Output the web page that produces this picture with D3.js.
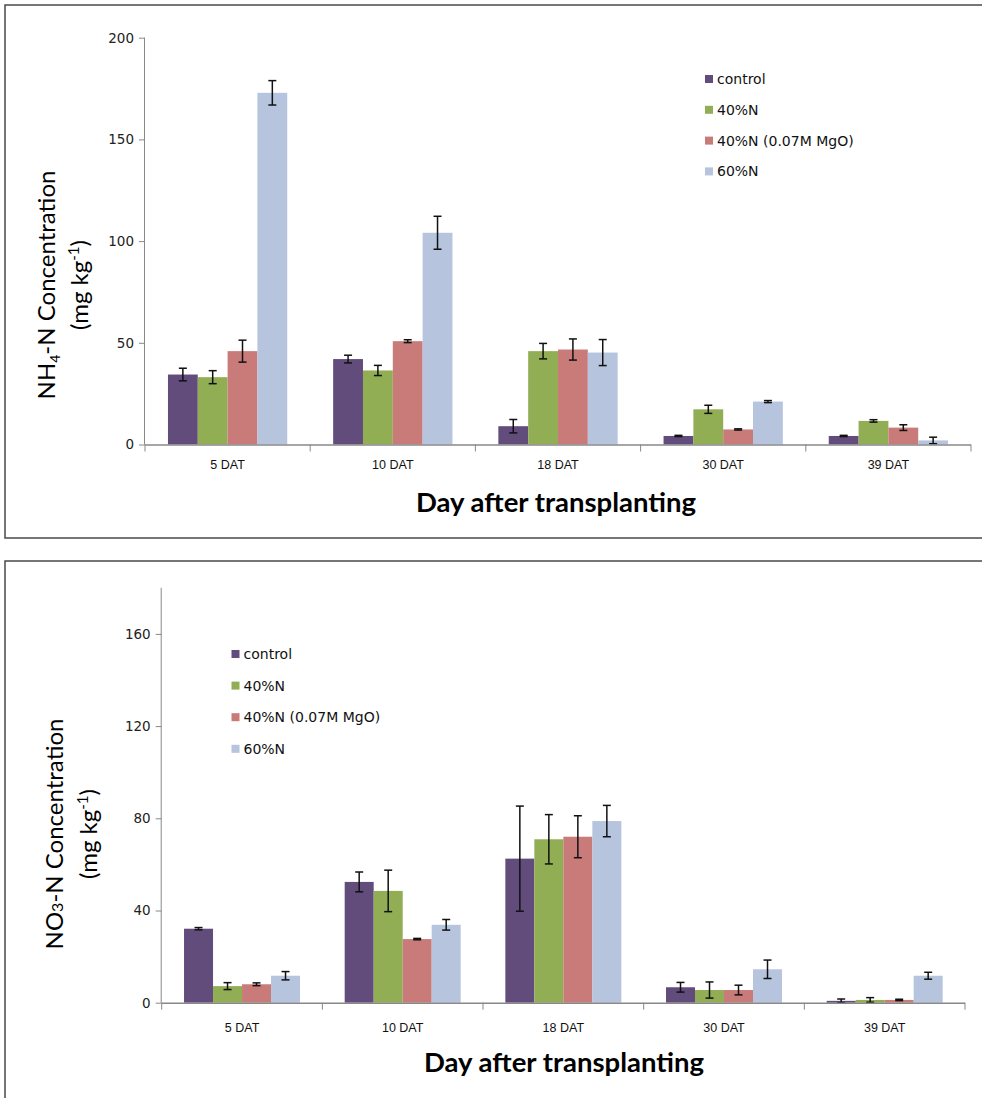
<!DOCTYPE html>
<html><head><meta charset="utf-8">
<script src="https://cdn.jsdelivr.net/npm/d3@7"></script>
<style>body{margin:0;background:#fff}svg{display:block}</style>
</head><body>
<svg id="c" width="982" height="1098"></svg>
<script>
const categories = ["5 DAT","10 DAT","18 DAT","30 DAT","39 DAT"];
const seriesNames = ["control","40%N","40%N (0.07M MgO)","60%N"];
const colors = ["#624C7C","#91AE54","#C97B7A","#B6C4DE"];

// NH4-N (top)
const nh4_control = [34.4, 42.0, 9.0, 4.2, 4.2];
const nh4_40N     = [33.1, 36.4, 45.9, 17.3, 11.6];
const nh4_40NMgO  = [45.9, 50.8, 46.7, 7.4, 8.3];
const nh4_60N     = [172.9, 104.1, 45.2, 21.1, 2.0];
const nh4_err_control = [3.1, 1.9, 3.3, 0.3, 0.3];
const nh4_err_40N     = [3.2, 2.5, 3.8, 2.0, 0.6];
const nh4_err_40NMgO  = [5.4, 0.7, 5.2, 0.3, 1.4];
const nh4_err_60N     = [6.0, 8.1, 6.4, 0.5, 1.6];
const nh4_ticks = [0, 50, 100, 150, 200];

// NO3-N (bottom)
const no3_control = [32.1, 52.4, 62.5, 6.7, 0.8];
const no3_40N     = [7.2, 48.5, 70.9, 5.5, 1.2];
const no3_40NMgO  = [8.0, 27.6, 72.0, 5.5, 1.2];
const no3_60N     = [11.7, 33.8, 78.8, 14.5, 11.7];
const no3_err_control = [0.5, 4.3, 22.8, 2.1, 0.8];
const no3_err_40N     = [1.5, 9.0, 10.7, 3.5, 1.0];
const no3_err_40NMgO  = [0.6, 0.3, 9.1, 2.1, 0.3];
const no3_err_60N     = [1.8, 2.3, 6.8, 4.0, 1.5];
const no3_ticks = [0, 40, 80, 120, 160];

const svg = d3.select("#c");
const tickFont = "DejaVu Sans, Verdana, sans-serif";
const catFont = "Liberation Sans, Arial, sans-serif";
const titleFont = "Lato, Open Sans, sans-serif";

function drawChart(o) {
  const g = svg.append("g");
  g.append("rect").attr("x", o.frame[0]).attr("y", o.frame[1]).attr("width", o.frame[2]).attr("height", o.frame[3])
    .attr("fill", "none").attr("stroke", "#4a4a4a").attr("stroke-width", 1.5);

  const x0 = d3.scaleBand().domain(categories).range([o.x0, o.x1]).paddingInner(0).paddingOuter(0);
  const x1 = d3.scaleBand().domain(seriesNames).range([0, x0.bandwidth()]).paddingOuter(0.77).paddingInner(0);
  const y = d3.scaleLinear().domain([0, o.ymax]).range([o.yb, o.yt]);

  seriesNames.forEach((s, si) => {
    const vals = o.values[si];
    g.append("g").selectAll("rect").data(categories).join("rect")
      .attr("x", c => x0(c) + x1(s))
      .attr("width", x1.bandwidth())
      .attr("y", (c, i) => y(vals[i]))
      .attr("height", (c, i) => y(0) - y(vals[i]))
      .attr("fill", colors[si]);
  });
  seriesNames.forEach((s, si) => {
    const vals = o.values[si], errs = o.errs[si];
    const eg = g.append("g").attr("stroke", "#111").attr("stroke-width", 1.5);
    categories.forEach((c, i) => {
      const cx = x0(c) + x1(s) + x1.bandwidth() / 2;
      const hi = y(vals[i] + errs[i]), lo = y(Math.max(0, vals[i] - errs[i]));
      eg.append("line").attr("x1", cx).attr("x2", cx).attr("y1", hi).attr("y2", lo);
      eg.append("line").attr("x1", cx - 4).attr("x2", cx + 4).attr("y1", hi).attr("y2", hi);
      eg.append("line").attr("x1", cx - 4).attr("x2", cx + 4).attr("y1", lo).attr("y2", lo);
    });
  });

  const ya = g.append("g").attr("transform", `translate(${o.x0},0)`)
    .call(d3.axisLeft(y).tickValues(o.ticks).tickSize(6).tickPadding(5));
  ya.select(".domain").attr("stroke", "#888").attr("d", `M-0.5,${o.yt}V${o.yb}`);
  ya.selectAll(".tick line").attr("stroke", "#888");
  ya.selectAll("text").attr("font-family", tickFont).attr("font-size", 13.5).attr("fill", "#222");

  const xa = g.append("g").attr("transform", `translate(0,${o.yb})`);
  xa.append("line").attr("x1", o.x0).attr("x2", o.x1).attr("y1", 0.5).attr("y2", 0.5).attr("stroke", "#888").attr("stroke-width", 1.5);
  const bounds = categories.map(c => x0(c)).concat([o.x1]);
  xa.selectAll("line.t").data(bounds).join("line").attr("class", "t")
    .attr("x1", d => d).attr("x2", d => d).attr("y1", 0).attr("y2", 7).attr("stroke", "#888");
  xa.selectAll("text").data(categories).join("text")
    .attr("x", c => x0(c) + x0.bandwidth() / 2).attr("y", o.catY - o.yb)
    .attr("text-anchor", "middle").attr("font-family", catFont).attr("font-size", 12.5).attr("fill", "#111")
    .text(c => c);

  g.append("text").attr("x", o.xtX).attr("y", o.xtY).attr("text-anchor", "middle")
    .attr("font-family", titleFont).attr("font-weight", "bold").attr("font-size", 27.5).attr("fill", "#000")
    .text("Day after transplanting");

  const t1 = g.append("text").attr("transform", `translate(${o.yt1X},${o.ytY}) rotate(-90)`)
    .attr("text-anchor", "middle").attr("font-family", titleFont).attr("font-size", 24).attr("fill", "#000");
  o.ylab(t1);
  const t2 = g.append("text").attr("transform", `translate(${o.yt2X},${o.ytY}) rotate(-90)`)
    .attr("text-anchor", "middle").attr("font-family", titleFont).attr("font-size", 24).attr("fill", "#000");
  t2.append("tspan").text("(mg kg");
  t2.append("tspan").attr("dy", -9).attr("font-size", 15).text("-1");
  t2.append("tspan").attr("dy", 9).text(")");

  const lg = g.append("g").attr("transform", `translate(${o.leg[0]},${o.leg[1]})`);
  seriesNames.forEach((s, si) => {
    const row = lg.append("g").attr("transform", `translate(0,${si * o.leg[2]})`);
    row.append("rect").attr("x", 0).attr("y", -4).attr("width", 8).attr("height", 8).attr("fill", colors[si]);
    row.append("text").attr("x", 12).attr("y", 5).attr("font-family", tickFont).attr("font-size", 14).attr("fill", "#111").text(s);
  });
}

drawChart({
  frame: [5, 5, 990, 533],
  x0: 145, x1: 971, yb: 444.5, yt: 37.7, ymax: 200, ticks: nh4_ticks,
  values: [nh4_control, nh4_40N, nh4_40NMgO, nh4_60N],
  errs: [nh4_err_control, nh4_err_40N, nh4_err_40NMgO, nh4_err_60N],
  catY: 469, xtX: 556, xtY: 512,
  yt1X: 55, yt2X: 88, ytY: 285,
  ylab: t => {
    t.append("tspan").text("NH");
    t.append("tspan").attr("dy", 5).attr("font-size", 14).text("4");
    t.append("tspan").attr("dy", -5).text("-N Concentration");
  },
  leg: [705, 79, 30.8]
});

drawChart({
  frame: [5, 561, 990, 560],
  x0: 161.7, x1: 965, yb: 1002.7, yt: 1002.7 - 180 * 2.305, ymax: 180, ticks: no3_ticks,
  values: [no3_control, no3_40N, no3_40NMgO, no3_60N],
  errs: [no3_err_control, no3_err_40N, no3_err_40NMgO, no3_err_60N],
  catY: 1032, xtX: 564, xtY: 1071.5,
  yt1X: 63, yt2X: 97, ytY: 834,
  ylab: t => {
    t.append("tspan").text("NO");
    t.append("tspan").attr("font-size", 16).text("3");
    t.append("tspan").text("-N Concentration");
  },
  leg: [231.5, 654, 31.6]
});
</script>
</body></html>
